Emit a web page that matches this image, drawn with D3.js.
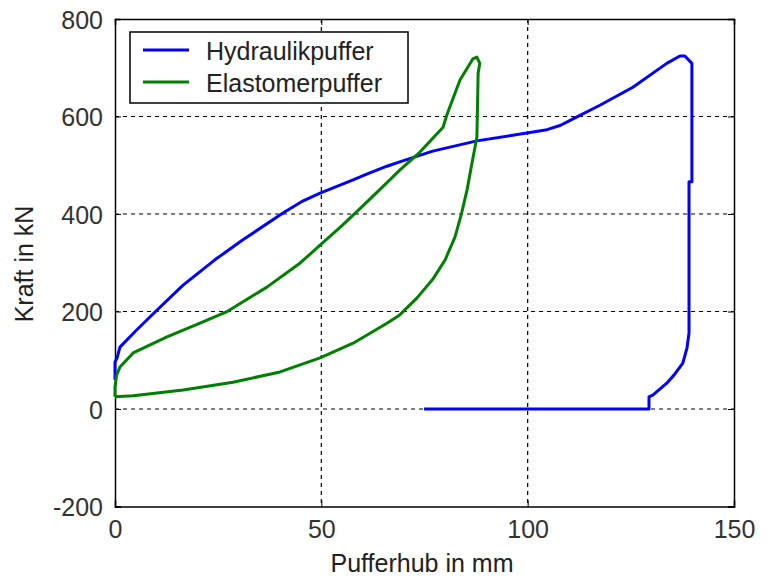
<!DOCTYPE html>
<html><head><meta charset="utf-8">
<script src="https://cdn.jsdelivr.net/npm/d3@7"></script>
<style>body{margin:0;background:#fff}svg{display:block}text{font-family:"Liberation Sans",Arial,sans-serif}</style>
</head><body><svg id="c" width="768" height="578"></svg>
<script>
const xTicks=[0,50,100,150];
const yTicks=[-200,0,200,400,600,800];
const seriesNames=["Hydraulikpuffer","Elastomerpuffer"];
const hydraulik=[[0,60],[0,96],[0.5,105],[1.2,127],[5,160],[9.7,199],[16.5,254],[24.2,306],[31,347],[40.7,402],[45.6,427],[49.7,443],[57.7,470],[61,482],[65.9,498],[69,507],[77,529],[87.7,550],[99.8,566],[104.7,573],[108,582],[111,595],[117.5,623],[125.5,660],[133.7,709],[136.9,724],[138.1,724],[139.8,709],[139.8,466],[139.1,466],[139.1,156],[138.6,125],[137.6,94],[135.5,70],[133.7,53],[130.4,29],[129.4,25],[129.4,0],[74.9,0]];
const elastomer=[[0,25],[0,45],[0.4,70],[1.2,86],[4.4,115],[12.6,148],[20.6,176],[27,199],[36.8,250],[44.8,299],[49.7,336],[55,376],[60,416],[66.6,470],[69,490],[73.9,527],[79.5,578],[80.4,603],[83.6,675],[86.7,718],[87.7,722],[88.4,709],[88,689],[87.7,558],[86.5,504],[85.3,449],[84,402],[82.4,353],[80,306],[77,266],[73.2,228],[69,193],[65.9,176],[57.7,135],[49.7,105],[40,76],[28.6,55],[16.5,39],[4.4,27],[0,25]];
const colors=["#0000ff","#008000"];

const svg=d3.select("#c");
const L=115,R=734,T=19,B=506.5;
const FS=25;
const x=d3.scaleLinear().domain([0,150]).range([L,R]);
const y=d3.scaleLinear().domain([-200,800]).range([B,T]);
const g=svg.append("g");
// grid
g.selectAll(".gx").data(xTicks.slice(1,-1)).enter().append("line")
 .attr("x1",d=>x(d)).attr("x2",d=>x(d)).attr("y1",T).attr("y2",B)
 .attr("stroke","#000").attr("stroke-dasharray","4,4").attr("stroke-width",1.2);
g.selectAll(".gy").data(yTicks.slice(1,-1)).enter().append("line")
 .attr("y1",d=>y(d)).attr("y2",d=>y(d)).attr("x1",L).attr("x2",R)
 .attr("stroke","#000").attr("stroke-dasharray","4,4").attr("stroke-width",1.2);
// axes
const fmt=d=>String(d).replace("\u2212","-");
const ax=d3.axisBottom(x).tickValues(xTicks).tickSize(-6).tickPadding(14).tickFormat(fmt);
const ay=d3.axisLeft(y).tickValues(yTicks).tickSize(-6).tickPadding(12).tickFormat(fmt);
const gx=svg.append("g").attr("transform",`translate(0,${B})`).call(ax);
const gy=svg.append("g").attr("transform",`translate(${L},0)`).call(ay);
svg.append("g").attr("transform",`translate(0,${T})`).call(d3.axisTop(x).tickValues(xTicks).tickSize(-6).tickFormat(""));
svg.append("g").attr("transform",`translate(${R},0)`).call(d3.axisRight(y).tickValues(yTicks).tickSize(-6).tickFormat(""));
svg.selectAll(".domain").attr("stroke","#000").attr("stroke-width",1.5);
svg.selectAll(".tick line").attr("stroke","#000");
[gx,gy].forEach(a=>a.selectAll("text").attr("font-size",FS).attr("fill","#333").attr("font-family","'Liberation Sans',Arial,sans-serif"));
gy.selectAll("text").attr("dy","0.36em");
// lines
const line=d3.line().x(d=>x(d[0])).y(d=>y(d[1]));
[hydraulik,elastomer].forEach((s,i)=>{
 svg.append("path").attr("d",line(s)).attr("fill","none").attr("stroke",colors[i]).attr("stroke-width",3).attr("stroke-linejoin","round");
});
// legend
const lg=svg.append("g");
lg.append("rect").attr("x",130).attr("y",32).attr("width",278).attr("height",71).attr("fill","#fff").attr("stroke","#000").attr("stroke-width",1.5);
seriesNames.forEach((n,i)=>{
 const yy=50+i*32;
 lg.append("line").attr("x1",143).attr("x2",189).attr("y1",yy).attr("y2",yy).attr("stroke",colors[i]).attr("stroke-width",3);
 lg.append("text").attr("x",206).attr("y",yy+10).attr("font-size",FS).attr("fill","#222").text(n);
});
// titles
svg.append("text").attr("x",422).attr("y",572).attr("text-anchor","middle").attr("font-size",FS).attr("fill","#222").text("Pufferhub in mm");
svg.append("text").attr("transform","translate(33,264) rotate(-90)").attr("text-anchor","middle").attr("font-size",FS).attr("fill","#222").text("Kraft in kN");
</script></body></html>
